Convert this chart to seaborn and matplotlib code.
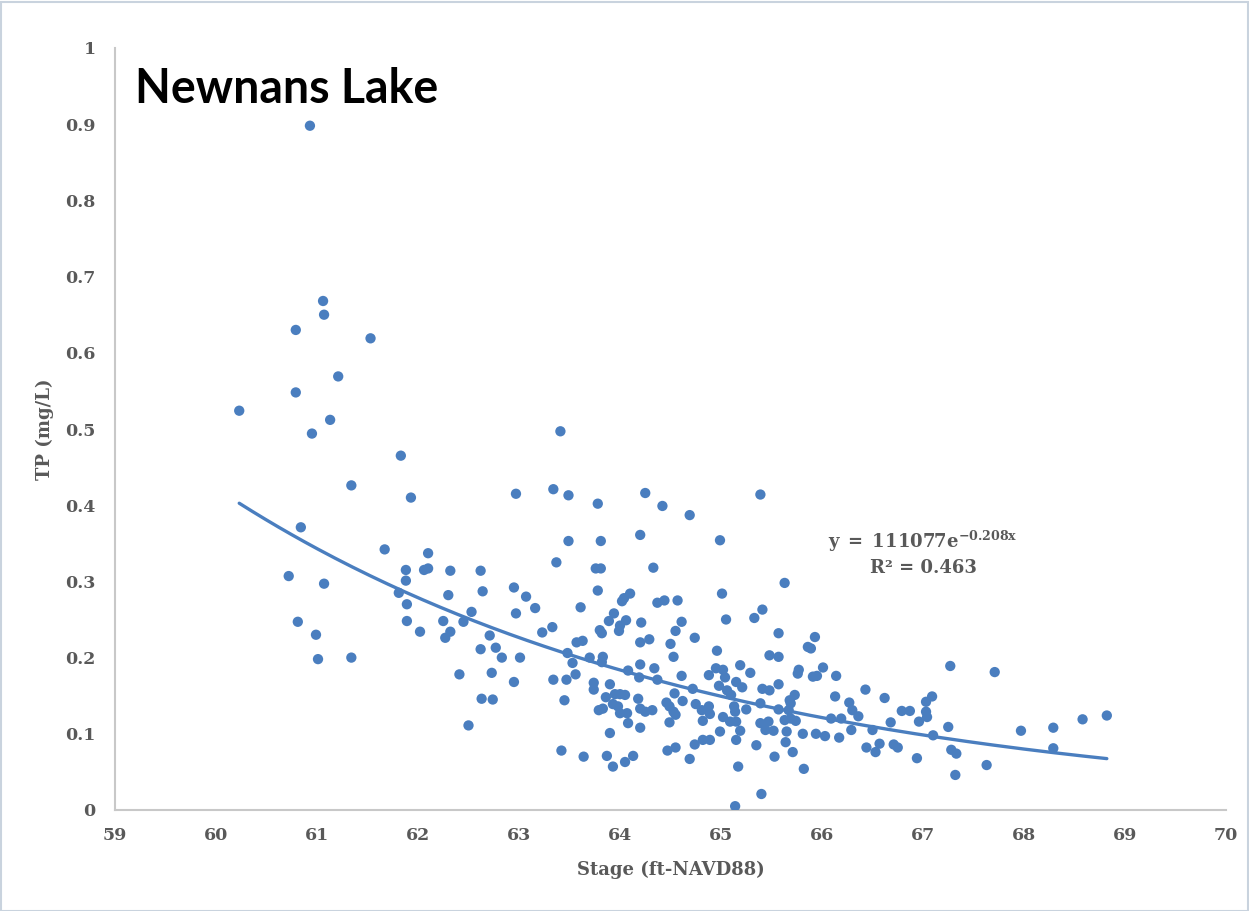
import numpy as np
import pandas as pd
import matplotlib
matplotlib.use("Agg")
import matplotlib.pyplot as plt
from matplotlib.ticker import FuncFormatter, MultipleLocator
from matplotlib.patches import Rectangle
import seaborn as sns

# Lake stage (ft NAVD88) and total phosphorus (mg/L) samples
stage = [
    60.93, 61.06, 61.07, 60.79, 61.53, 61.21, 60.79, 60.23, 61.13, 60.95, 61.83,
    61.34, 61.93, 62.97, 60.84, 61.67, 62.10, 61.88, 62.06, 62.10, 62.32, 62.62,
    60.72, 61.07, 61.88, 61.81, 62.30, 62.64, 62.95, 63.07, 63.16, 61.89, 62.53,
    62.97, 60.81, 61.89, 62.25, 62.45, 62.02, 62.32, 62.27, 60.99, 62.71, 63.23,
    62.62, 62.77, 62.83, 63.01, 61.01, 61.34, 62.41, 62.73, 62.95, 62.63, 62.74,
    62.50,
    63.41, 63.34, 63.49, 63.78, 64.25, 64.42, 64.69, 65.39, 63.49, 63.81, 64.20,
    64.99, 63.37, 63.76, 63.81, 64.33, 63.78, 65.01, 63.61, 64.02, 64.04, 64.10,
    64.37, 64.44, 64.57, 63.94, 63.89, 64.06, 64.21, 64.61, 64.55, 64.00, 63.99,
    63.80, 63.82, 63.33, 63.57, 63.63, 64.20, 64.29, 64.50, 64.74, 65.05, 65.33,
    65.41, 63.48, 63.53, 63.70, 63.83, 63.82, 64.08, 64.20, 64.19, 64.34, 64.37,
    64.53, 64.61, 64.72, 64.96, 64.88, 64.95, 65.02, 65.04, 65.19, 65.29, 65.15,
    65.21, 64.98, 65.06, 65.10, 65.41, 65.48, 65.57, 65.57, 65.48, 65.57, 63.34,
    63.47, 63.56, 63.45, 63.74, 63.74, 63.90, 63.86, 63.79, 63.83, 63.95, 64.00,
    64.05, 63.93, 63.98, 64.00, 64.07, 63.90, 64.08, 64.18, 64.20, 64.25, 64.32,
    64.20, 64.46, 64.49, 64.53, 64.55, 64.54, 64.62, 64.49, 64.75, 64.81, 64.88,
    64.89, 64.82, 64.99, 65.02, 65.09, 65.15, 65.13, 65.14, 65.19, 65.25, 65.39,
    65.39, 65.47, 65.44, 65.52, 65.57, 65.35, 65.53, 65.15, 65.17, 65.40, 65.14,
    63.42, 63.64, 63.87, 63.93, 64.05, 64.13, 64.47, 64.55, 64.69, 64.74, 64.82,
    64.89,
    65.63, 65.93, 65.86, 65.89, 65.77, 65.76, 65.91, 65.95, 66.01, 66.14, 65.73,
    65.68, 65.69, 65.67, 65.63, 65.69, 65.74, 65.65, 65.64, 65.71, 65.82, 65.81,
    65.94, 66.03, 66.09, 66.19, 66.13, 66.17, 66.27, 66.30, 66.36, 66.29, 66.43,
    66.50, 66.44, 66.53, 66.57, 66.62, 66.68, 66.71, 66.75, 66.79, 66.87, 66.96,
    66.94, 67.03, 67.04, 67.03, 67.09, 67.10, 67.27, 67.25, 67.28, 67.33, 67.32,
    67.63, 67.71, 67.97, 68.29, 68.58, 68.82, 68.29,
]
tp = [
    0.898, 0.668, 0.650, 0.630, 0.619, 0.569, 0.548, 0.524, 0.512, 0.494, 0.465,
    0.426, 0.410, 0.415, 0.371, 0.342, 0.337, 0.315, 0.315, 0.317, 0.314, 0.314,
    0.307, 0.297, 0.301, 0.285, 0.282, 0.287, 0.292, 0.280, 0.265, 0.270, 0.260,
    0.258, 0.247, 0.248, 0.248, 0.247, 0.234, 0.234, 0.226, 0.230, 0.229, 0.233,
    0.211, 0.213, 0.200, 0.200, 0.198, 0.200, 0.178, 0.180, 0.168, 0.146, 0.145,
    0.111,
    0.497, 0.421, 0.413, 0.402, 0.416, 0.399, 0.387, 0.414, 0.353, 0.353, 0.361,
    0.354, 0.325, 0.317, 0.317, 0.318, 0.288, 0.284, 0.266, 0.274, 0.278, 0.284,
    0.272, 0.275, 0.275, 0.258, 0.248, 0.249, 0.246, 0.247, 0.235, 0.242, 0.235,
    0.236, 0.232, 0.240, 0.220, 0.222, 0.220, 0.224, 0.218, 0.226, 0.250, 0.252,
    0.263, 0.206, 0.193, 0.200, 0.201, 0.194, 0.183, 0.191, 0.174, 0.186, 0.171,
    0.201, 0.176, 0.159, 0.209, 0.177, 0.186, 0.184, 0.174, 0.190, 0.180, 0.168,
    0.161, 0.163, 0.157, 0.151, 0.159, 0.157, 0.232, 0.201, 0.203, 0.165, 0.171,
    0.171, 0.178, 0.144, 0.167, 0.158, 0.165, 0.148, 0.131, 0.133, 0.152, 0.152,
    0.151, 0.139, 0.136, 0.127, 0.127, 0.101, 0.114, 0.146, 0.133, 0.129, 0.131,
    0.108, 0.141, 0.136, 0.129, 0.125, 0.153, 0.143, 0.115, 0.139, 0.131, 0.136,
    0.126, 0.117, 0.103, 0.122, 0.116, 0.116, 0.136, 0.129, 0.104, 0.132, 0.140,
    0.114, 0.116, 0.105, 0.104, 0.132, 0.085, 0.070, 0.092, 0.057, 0.021, 0.005,
    0.078, 0.070, 0.071, 0.057, 0.063, 0.071, 0.078, 0.082, 0.067, 0.086, 0.092,
    0.092,
    0.298, 0.227, 0.214, 0.212, 0.184, 0.179, 0.175, 0.176, 0.187, 0.176, 0.151,
    0.144, 0.140, 0.131, 0.118, 0.120, 0.117, 0.103, 0.089, 0.076, 0.054, 0.100,
    0.100, 0.097, 0.120, 0.120, 0.149, 0.095, 0.141, 0.131, 0.123, 0.105, 0.158,
    0.105, 0.082, 0.076, 0.087, 0.147, 0.115, 0.086, 0.082, 0.130, 0.130, 0.116,
    0.068, 0.129, 0.122, 0.142, 0.149, 0.098, 0.189, 0.109, 0.079, 0.074, 0.046,
    0.059, 0.181, 0.104, 0.108, 0.119, 0.124, 0.081,
]

# Exponential trend line: y = a * exp(b * x)
trend_a = 111077
trend_b = -0.208
trend_r2 = 0.463

x_ticks = [59, 60, 61, 62, 63, 64, 65, 66, 67, 68, 69, 70]

df = pd.DataFrame({"stage": stage, "tp": tp})
xs = np.linspace(min(stage), max(stage), 200)
trend = pd.DataFrame({"stage": xs, "tp": trend_a * np.exp(trend_b * xs)})

sns.set_style("white")
plt.rcParams["font.family"] = ["DejaVu Serif"]
plt.rcParams["mathtext.fontset"] = "dejavuserif"

blue = "#4A7EBF"
tick_gray = "#595959"
spine_gray = "#C8C8C8"

fig = plt.figure(figsize=(12.49, 9.11), dpi=100)
ax = fig.add_axes([115 / 1249, 1 - 810 / 911, (1226 - 115) / 1249, (810 - 48) / 911])

sns.scatterplot(data=df, x="stage", y="tp", ax=ax, color=blue, s=55,
                edgecolor="none", zorder=3)
sns.lineplot(data=trend, x="stage", y="tp", ax=ax, color=blue, linewidth=2.4,
             zorder=2)

ax.set_xlim(59, 70)
ax.set_ylim(0, 1)
ax.set_xticks(x_ticks)
ax.yaxis.set_major_locator(MultipleLocator(0.1))
ax.yaxis.set_major_formatter(FuncFormatter(lambda v, _: f"{v:.1f}".rstrip("0").rstrip(".") if v else "0"))
ax.tick_params(axis="both", length=0, labelsize=12.5, labelcolor=tick_gray)
ax.tick_params(axis="x", pad=12)
ax.tick_params(axis="y", pad=14)
for lab in ax.get_xticklabels() + ax.get_yticklabels():
    lab.set_fontweight("bold")

for side in ("top", "right"):
    ax.spines[side].set_visible(False)
for side in ("left", "bottom"):
    ax.spines[side].set_color(spine_gray)
    ax.spines[side].set_linewidth(1.5)

ax.set_xlabel("Stage (ft-NAVD88)", fontsize=13, fontweight="bold",
              color=tick_gray, labelpad=12)
ax.set_ylabel("TP (mg/L)", fontsize=13, fontweight="bold",
              color=tick_gray, labelpad=8)

ax.text(0.018, 0.946, "Newnans Lake", transform=ax.transAxes, fontsize=33.5,
        fontweight="bold", family=["Lato", "DejaVu Sans"], color="black",
        va="center", ha="left")

ax.text(67.0, 0.352, rf"$\mathbf{{y\ =\ {trend_a}e^{{{trend_b}x}}}}$", fontsize=13,
        color=tick_gray, ha="center", va="center")
ax.text(67.0, 0.318, f"R² = {trend_r2}", fontsize=13, fontweight="bold",
        color=tick_gray, ha="center", va="center")

fig.patches.append(Rectangle((0.0005, 0.0005), 0.999, 0.997, transform=fig.transFigure,
                             fill=False, edgecolor="#C9D3DE", linewidth=1.5))

fig.savefig("out.png", dpi=100, facecolor="white")
